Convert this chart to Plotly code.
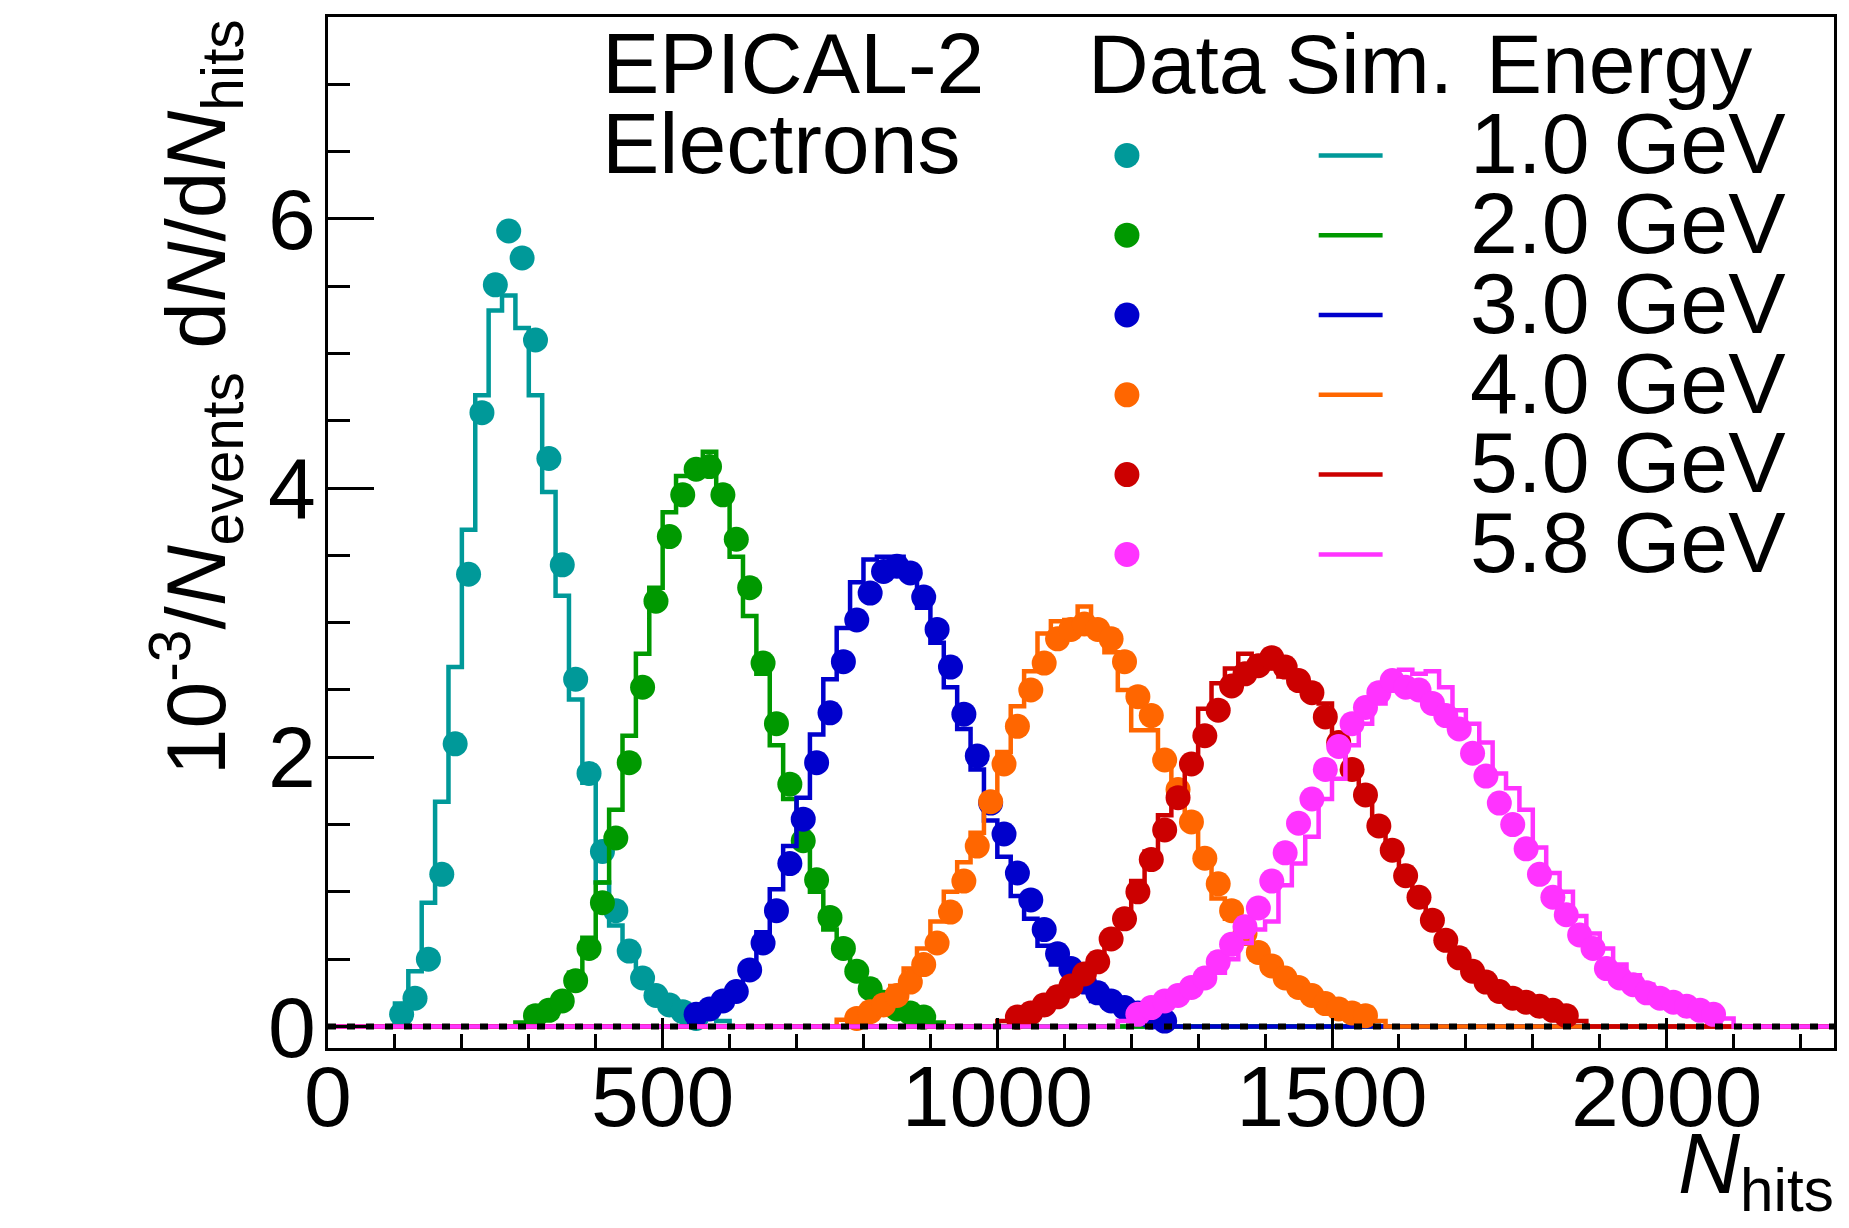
import plotly.graph_objects as go

# ---------------------------------------------------------------- data
BIN = 20          # N_hits bin width
X_MAX = 2250

energy_labels = ["1.0 GeV", "2.0 GeV", "3.0 GeV", "4.0 GeV", "5.0 GeV", "5.8 GeV"]
colors = ["#009999", "#009900", "#0000cc", "#ff6600", "#cc0000", "#ff33ff"]

# centre of the first filled bin of each measured distribution
data_first_center = [110, 310, 550, 790, 1030, 1210]
# low edge of the first filled bin of each simulated distribution
sim_first_edge = [100, 280, 540, 760, 1000, 1180]

# measured 10^-3/N_events dN/dN_hits
data_1gev = [0.09, 0.21, 0.50, 1.13, 2.10, 3.36, 4.56, 5.51, 5.91, 5.71, 5.10, 4.22,
             3.43, 2.58, 1.88, 1.30, 0.86, 0.56, 0.36, 0.23, 0.16, 0.11, 0.06]
data_2gev = [0.08, 0.12, 0.19, 0.34, 0.58, 0.92, 1.40, 1.96, 2.52, 3.16, 3.64, 3.95,
             4.14, 4.16, 3.95, 3.62, 3.26, 2.70, 2.25, 1.80, 1.38, 1.09, 0.81, 0.58,
             0.41, 0.28, 0.18, 0.13, 0.10, 0.07]
data_3gev = [0.09, 0.13, 0.19, 0.26, 0.42, 0.62, 0.86, 1.21, 1.54, 1.96, 2.33, 2.71,
             3.02, 3.22, 3.38, 3.42, 3.37, 3.19, 2.95, 2.67, 2.32, 2.01, 1.66, 1.43,
             1.14, 0.94, 0.72, 0.54, 0.43, 0.33, 0.25, 0.19, 0.14, 0.10, 0.07, 0.04]
data_4gev = [0.06, 0.11, 0.16, 0.23, 0.33, 0.46, 0.62, 0.85, 1.08, 1.34, 1.67, 1.95,
             2.23, 2.50, 2.70, 2.88, 2.95, 2.99, 2.95, 2.88, 2.71, 2.45, 2.31, 1.98,
             1.76, 1.52, 1.25, 1.06, 0.86, 0.69, 0.55, 0.45, 0.36, 0.29, 0.23, 0.17,
             0.13, 0.10, 0.08]
data_5gev = [0.07, 0.10, 0.16, 0.22, 0.30, 0.39, 0.48, 0.65, 0.80, 1.00, 1.24, 1.46,
             1.70, 1.95, 2.16, 2.35, 2.53, 2.62, 2.68, 2.74, 2.67, 2.57, 2.48, 2.30,
             2.11, 1.91, 1.72, 1.49, 1.31, 1.12, 0.96, 0.79, 0.64, 0.51, 0.41, 0.33,
             0.26, 0.21, 0.18, 0.15, 0.12, 0.08]
data_58gev = [0.09, 0.14, 0.19, 0.23, 0.29, 0.36, 0.48, 0.61, 0.74, 0.88, 1.08, 1.29,
              1.51, 1.69, 1.91, 2.08, 2.25, 2.37, 2.48, 2.57, 2.52, 2.50, 2.40, 2.31,
              2.21, 2.03, 1.86, 1.66, 1.50, 1.32, 1.13, 0.96, 0.83, 0.68, 0.58, 0.43,
              0.36, 0.31, 0.25, 0.21, 0.18, 0.15, 0.12, 0.09]

# simulated 10^-3/N_events dN/dN_hits
sim_1gev = [0.17, 0.41, 0.92, 1.67, 2.67, 3.69, 4.69, 5.32, 5.43, 5.19, 4.69, 3.97,
            3.20, 2.43, 1.81, 1.07, 0.75, 0.52, 0.37, 0.27, 0.19, 0.13, 0.09, 0.06, 0.04]
sim_2gev = [0.03, 0.07, 0.13, 0.23, 0.40, 0.66, 1.07, 1.61, 2.16, 2.77, 3.26, 3.82,
            4.09, 4.12, 4.27, 3.99, 3.49, 3.05, 2.62, 2.09, 1.69, 1.36, 1.00, 0.72,
            0.55, 0.38, 0.26, 0.17, 0.11, 0.07, 0.05, 0.03]
sim_3gev = [0.07, 0.12, 0.19, 0.30, 0.46, 0.70, 1.02, 1.34, 1.70, 2.17, 2.58, 2.96,
            3.30, 3.47, 3.49, 3.49, 3.40, 3.11, 2.85, 2.52, 2.21, 1.91, 1.53, 1.26,
            0.97, 0.80, 0.60, 0.46, 0.35, 0.26, 0.19, 0.14, 0.10, 0.07, 0.05, 0.03]
sim_4gev = [0.05, 0.09, 0.14, 0.21, 0.30, 0.43, 0.58, 0.78, 1.00, 1.22, 1.44, 1.69,
            2.04, 2.38, 2.64, 2.92, 3.01, 3.02, 3.12, 2.97, 2.78, 2.50, 2.20, 2.20,
            1.95, 1.72, 1.50, 1.25, 0.95, 0.80, 0.62, 0.50, 0.40, 0.32, 0.25, 0.19,
            0.15, 0.11, 0.08, 0.06, 0.04]
sim_5gev = [0.04, 0.06, 0.09, 0.13, 0.19, 0.27, 0.37, 0.50, 0.66, 0.85, 1.08, 1.30,
            1.57, 1.75, 1.99, 2.36, 2.55, 2.66, 2.77, 2.72, 2.66, 2.60, 2.52, 2.45,
            2.40, 2.17, 1.95, 1.74, 1.52, 1.32, 1.12, 0.94, 0.78, 0.63, 0.51, 0.40,
            0.31, 0.25, 0.20, 0.16, 0.13, 0.10, 0.07, 0.04]
sim_58gev = [0.04, 0.07, 0.10, 0.14, 0.19, 0.25, 0.32, 0.40, 0.50, 0.62, 0.72, 0.78,
             1.05, 1.21, 1.41, 1.69, 1.84, 2.09, 2.25, 2.40, 2.54, 2.65, 2.62, 2.64,
             2.52, 2.35, 2.25, 2.11, 1.88, 1.77, 1.61, 1.33, 1.14, 1.00, 0.82, 0.69,
             0.58, 0.46, 0.38, 0.31, 0.25, 0.20, 0.16, 0.12, 0.09, 0.06]

data_sets = [data_1gev, data_2gev, data_3gev, data_4gev, data_5gev, data_58gev]
sim_sets = [sim_1gev, sim_2gev, sim_3gev, sim_4gev, sim_5gev, sim_58gev]

# ---------------------------------------------------------------- geometry
W, H = 1849, 1228
L, R, T, B = 328, 13, 17, 180
PW, PH = W - L - R, H - T - B
FONT = "Liberation Sans, Arial, Helvetica, sans-serif"


def px_x(px):
    return (px - L) / PW


def px_y(py):
    return (T + PH - py) / PH


def full_range_hist(first_edge, values):
    """Step outline over the whole axis, empty bins drawn at zero."""
    edges = list(range(0, X_MAX, BIN))
    heights = [0.0] * len(edges)
    start = first_edge // BIN
    for k, v in enumerate(values):
        heights[start + k] = v
    xs = edges + [X_MAX]
    ys = heights + [heights[-1]]
    return xs, ys


fig = go.Figure()

for label, color, d0, s0, dvals, svals in zip(energy_labels, colors, data_first_center,
                                               sim_first_edge, data_sets, sim_sets):
    hx, hy = full_range_hist(s0, svals)
    fig.add_trace(go.Scatter(x=hx, y=hy, mode="lines", line_shape="hv",
                             line=dict(color=color, width=4.5), name="Sim. " + label,
                             showlegend=False, hoverinfo="skip"))
    centers = [d0 + BIN * k for k in range(len(dvals))]
    fig.add_trace(go.Scatter(x=centers, y=dvals, mode="markers",
                             marker=dict(color=color, size=25, line=dict(width=0)),
                             name="Data " + label, showlegend=False))

# dotted zero line
fig.add_trace(go.Scatter(x=[0, X_MAX], y=[0, 0], mode="lines",
                         line=dict(color="black", width=6, dash="8px,11px"),
                         showlegend=False, hoverinfo="skip"))

# ---------------------------------------------------------------- text
annotations = []


def text_at(txt, x_px, baseline_px, size, anchor="left"):
    top = baseline_px - 0.905 * size - 1
    annotations.append(dict(text=txt, xref="paper", yref="paper",
                            x=px_x(x_px), y=px_y(top), xanchor=anchor, yanchor="top",
                            showarrow=False, font=dict(family=FONT, size=size, color="black")))


row_base = [172, 251.8, 331.6, 411.4, 491.2, 571]
text_at("EPICAL-2", 600, 92, 86)
text_at("Electrons", 600, 172, 86)
text_at("Data", 1087, 92, 84)
text_at("Sim.", 1284, 92, 84)
text_at("Energy", 1486, 92, 84)
for lab, yb in zip(energy_labels, row_base):
    text_at(lab, 1790, yb, 86, anchor="right")

# axis titles
annotations.append(dict(
    text="10<sup>-3</sup>/<i>N</i><sub>events</sub> d<i>N</i>/d<i>N</i><sub>hits</sub>",
    xref="paper", yref="paper", x=px_x(196), y=px_y(17), xanchor="center", yanchor="top",
    textangle=-90, showarrow=False, font=dict(family=FONT, size=84, color="black")))
annotations.append(dict(
    text="<i>N</i><sub>hits</sub>", xref="paper", yref="paper",
    x=px_x(1838), y=px_y(1113), xanchor="right", yanchor="top",
    showarrow=False, font=dict(family=FONT, size=86, color="black")))

# legend symbols
shapes = []
for i, c in enumerate(colors):
    yc = 155.4 + 79.8 * i
    shapes.append(dict(type="circle", xref="paper", yref="paper",
                       x0=px_x(1128 - 12.5), x1=px_x(1128 + 12.5),
                       y0=px_y(yc + 12.5), y1=px_y(yc - 12.5),
                       fillcolor=c, line=dict(width=0)))
    shapes.append(dict(type="line", xref="paper", yref="paper",
                       x0=px_x(1320), x1=px_x(1384), y0=px_y(yc), y1=px_y(yc),
                       line=dict(color=c, width=4.5)))

axis_common = dict(showline=True, linecolor="black", linewidth=3, mirror=True,
                   ticks="inside", tickcolor="black", tickwidth=3, showgrid=False,
                   zeroline=False, tickfont=dict(family=FONT, size=86, color="black"))

fig.update_layout(
    width=W, height=H, margin=dict(l=L, r=R, t=T, b=B, pad=0),
    paper_bgcolor="white", plot_bgcolor="white", showlegend=False,
    annotations=annotations, shapes=shapes,
    xaxis=dict(range=[0, X_MAX], tick0=0, dtick=500, ticklen=30,
               minor=dict(ticks="inside", dtick=100, ticklen=14, tickwidth=3,
                          tickcolor="black", showgrid=False),
               ticklabelstandoff=-28, **axis_common),
    yaxis=dict(range=[-0.16, 7.5], tick0=0, dtick=2, ticklen=46,
               minor=dict(ticks="inside", dtick=0.5, ticklen=22, tickwidth=3,
                          tickcolor="black", showgrid=False),
               ticklabelstandoff=-8, **axis_common),
)

fig.write_html("out.html")
